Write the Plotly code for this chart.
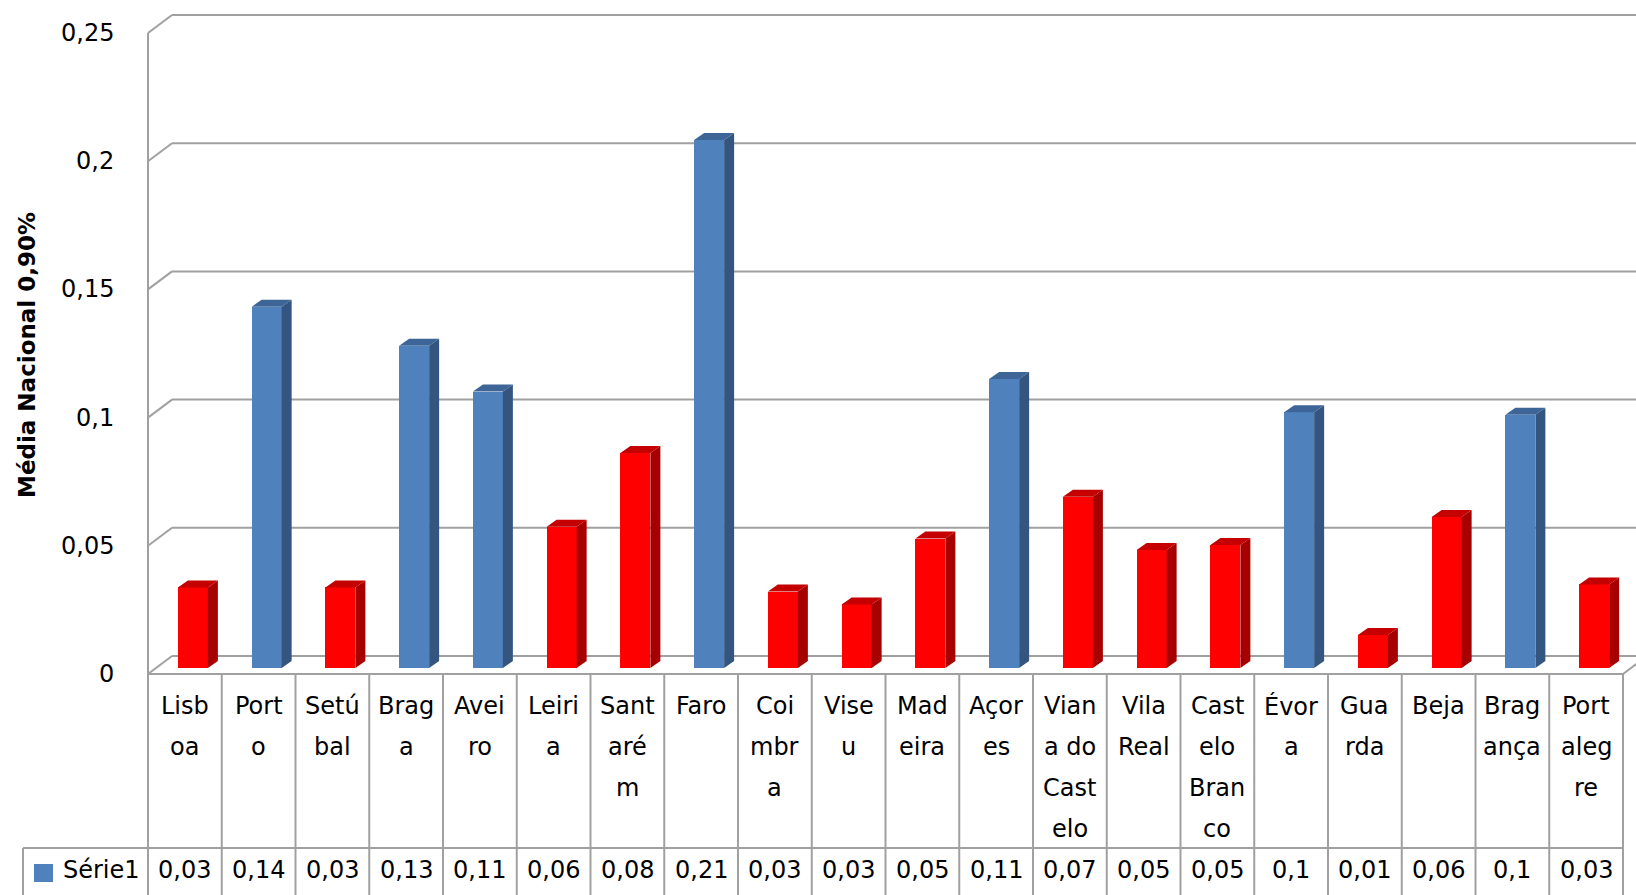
import plotly.graph_objects as go

# ---------------- data ----------------
categories = ["Lisboa", "Porto", "Setúbal", "Braga", "Aveiro", "Leiria", "Santarém", "Faro",
              "Coimbra", "Viseu", "Madeira", "Açores", "Viana do Castelo", "Vila Real",
              "Castelo Branco", "Évora", "Guarda", "Beja", "Bragança", "Portalegre"]
category_lines = [["Lisb", "oa"], ["Port", "o"], ["Setú", "bal"], ["Brag", "a"], ["Avei", "ro"],
                  ["Leiri", "a"], ["Sant", "aré", "m"], ["Faro"], ["Coi", "mbr", "a"], ["Vise", "u"],
                  ["Mad", "eira"], ["Açor", "es"], ["Vian", "a do", "Cast", "elo"], ["Vila", "Real"],
                  ["Cast", "elo", "Bran", "co"], ["Évor", "a"], ["Gua", "rda"], ["Beja"],
                  ["Brag", "ança"], ["Port", "aleg", "re"]]
values = [0.0314, 0.1409, 0.0314, 0.1257, 0.1078, 0.0551, 0.0839, 0.2059, 0.0298, 0.0248,
          0.0505, 0.1127, 0.0668, 0.0460, 0.0480, 0.0997, 0.0129, 0.0589, 0.0988, 0.0326]
table_labels = ["0,03", "0,14", "0,03", "0,13", "0,11", "0,06", "0,08", "0,21", "0,03", "0,03",
                "0,05", "0,11", "0,07", "0,05", "0,05", "0,1", "0,01", "0,06", "0,1", "0,03"]
above_average = [False, True, False, True, True, False, False, True, False, False,
                 False, True, False, False, False, True, False, False, True, False]
series_name = "Série1"
y_ticks = [0, 0.05, 0.1, 0.15, 0.2, 0.25]
y_tick_labels = ["0", "0,05", "0,1", "0,15", "0,2", "0,25"]
y_title = "Média Nacional 0,90%"

# ---------------- styles / geometry ----------------
W, H = 1636, 895
FONT = "DejaVu Sans"
GRID = "#a0a0a0"
BLUE = ("#4f81bd", "#34557f", "#3e6597")   # front, side, top
RED = ("#ff0000", "#a60000", "#c40000")

n = len(categories)
PX = 73.75          # pixels per category
PY = 2564.0         # pixels per value unit
X0PX, Y0PX = 148, 674  # pixel position of front-left floor corner
xr = [-0.5 - X0PX / PX, -0.5 + (W - X0PX) / PX]
yr = [-(H - Y0PX) / PY, Y0PX / PY]

def px_x(p):   # pixel x -> data x
    return -0.5 + (p - X0PX) / PX

def px_y(p):   # pixel y -> data y
    return (Y0PX - p) / PY

BX, BY = 24 / PX, 18 / PY        # wall depth
FX, FY = 8 / PX, 6 / PY          # bar depth position
SX, SY = 10 / PX, 7 / PY         # bar thickness depth
BW = 30 / PX                     # bar width
OFF = FX - BW / 2

fig = go.Figure()

# front faces of the columns
fig.add_trace(go.Bar(
    x=list(range(n)), y=values, base=[FY] * n, width=BW, offset=OFF,
    marker=dict(color=[BLUE[0] if a else RED[0] for a in above_average], line=dict(width=0)),
    hoverinfo="skip", showlegend=False))

# side and top faces
for pal, flag in ((BLUE, True), (RED, False)):
    sx, sy, tx, ty = [], [], [], []
    for i, (v, a) in enumerate(zip(values, above_average)):
        if a != flag:
            continue
        xl = i + OFF
        xrr = xl + BW
        b = FY
        t = FY + v
        sx += [xrr, xrr + SX, xrr + SX, xrr, xrr, None]
        sy += [b, b + SY, t + SY, t, b, None]
        tx += [xl, xl + SX, xrr + SX, xrr, xl, None]
        ty += [t, t + SY, t + SY, t, t, None]
    fig.add_trace(go.Scatter(x=sx, y=sy, mode="lines", fill="toself", fillcolor=pal[1],
                             line=dict(width=0, color=pal[1]), hoverinfo="skip", showlegend=False))
    fig.add_trace(go.Scatter(x=tx, y=ty, mode="lines", fill="toself", fillcolor=pal[2],
                             line=dict(width=0, color=pal[2]), hoverinfo="skip", showlegend=False))

shapes = []
line = dict(color=GRID, width=2)
# gridlines on side wall and back wall
for t in y_ticks:
    shapes.append(dict(type="line", xref="x", yref="y", x0=-0.5, y0=t, x1=-0.5 + BX, y1=t + BY,
                       line=line, layer="below"))
    shapes.append(dict(type="line", xref="x", yref="y", x0=-0.5 + BX, y0=t + BY, x1=xr[1] + 1, y1=t + BY,
                       line=line, layer="below"))
# floor front edge and right diagonal
shapes.append(dict(type="line", xref="x", yref="y", x0=-0.5, y0=0, x1=n - 0.5, y1=0, line=line))
shapes.append(dict(type="line", xref="x", yref="y", x0=n - 0.5, y0=0, x1=n - 0.5 + BX, y1=BY, line=line))
# vertical axis front edge
shapes.append(dict(type="line", xref="x", yref="y", x0=-0.5, y0=0, x1=-0.5, y1=y_ticks[-1], line=line))

# data table
row_y = px_y(848)
for k in range(n + 1):
    shapes.append(dict(type="line", xref="x", yref="y", x0=-0.5 + k, y0=0, x1=-0.5 + k, y1=yr[0] - 0.01,
                       line=line))
shapes.append(dict(type="line", xref="x", yref="y", x0=px_x(23), y0=row_y, x1=n - 0.5, y1=row_y, line=line))
shapes.append(dict(type="line", xref="x", yref="y", x0=px_x(23), y0=row_y, x1=px_x(23), y1=yr[0] - 0.01,
                   line=line))
# legend key
shapes.append(dict(type="rect", xref="x", yref="y", x0=px_x(34), x1=px_x(53), y0=px_y(882), y1=px_y(864),
                   fillcolor=BLUE[0], line=dict(width=0)))

annotations = []
TF = dict(family=FONT, size=24, color="#000000")
line_centers = [706, 747, 788, 829]
for i, lines in enumerate(category_lines):
    for j, txt in enumerate(lines):
        annotations.append(dict(x=i, y=px_y(line_centers[j]), xref="x", yref="y", text=txt,
                                showarrow=False, font=TF, xanchor="center", yanchor="middle"))
for i, lab in enumerate(table_labels):
    annotations.append(dict(x=i, y=px_y(870), xref="x", yref="y", text=lab, showarrow=False,
                            font=TF, xanchor="center", yanchor="middle"))
annotations.append(dict(x=px_x(61), y=px_y(870), xref="x", yref="y", text=series_name, showarrow=False,
                        font=TF, xanchor="left", yanchor="middle"))
for t, lab in zip(y_ticks, y_tick_labels):
    annotations.append(dict(x=px_x(116), y=t, xref="x", yref="y", text=lab, showarrow=False,
                            font=TF, xanchor="right", yanchor="middle"))
annotations.append(dict(x=px_x(27), y=px_y(355), xref="x", yref="y", text="<b>" + y_title + "</b>",
                        showarrow=False, textangle=-90, font=dict(family=FONT, size=23, color="#000000"),
                        xanchor="center", yanchor="middle"))

fig.update_layout(
    width=W, height=H, margin=dict(l=0, r=0, t=0, b=0),
    paper_bgcolor="white", plot_bgcolor="white",
    xaxis=dict(range=xr, domain=[0, 1], visible=False, fixedrange=True),
    yaxis=dict(range=yr, domain=[0, 1], visible=False, fixedrange=True),
    shapes=shapes, annotations=annotations, showlegend=False, bargap=0,
)

fig.write_html("out.html", config={"displayModeBar": False},
               post_script="document.body.style.margin='0';document.body.style.overflow='hidden';")
